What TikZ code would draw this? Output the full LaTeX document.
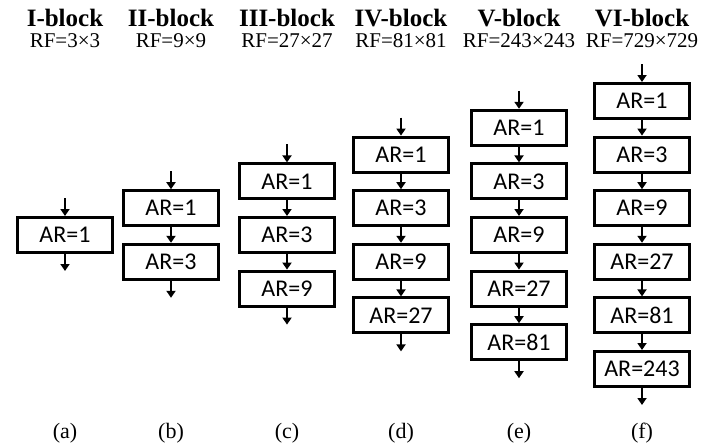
\documentclass[tikz,border=0pt]{standalone}
\usepackage{fontspec}
\setmainfont{Liberation Serif}
\newfontfamily\arfont{Carlito}
\usetikzlibrary{arrows.meta}

\tikzset{
  arbox/.style={draw=black, line width=3pt, minimum width=95pt, minimum height=35pt, inner sep=0pt, font=\arfont\fontsize{24}{26}\selectfont},
  flow/.style={line width=2pt, -{Triangle[width=9pt,length=7pt]}},
  blocktitle/.style={anchor=base, inner sep=0pt, text depth=0pt, font=\bfseries\fontsize{25}{27}\selectfont},
  rftext/.style={anchor=base, inner sep=0pt, text height=15pt, text depth=0pt, font=\fontsize{21}{23}\selectfont},
  subcap/.style={inner sep=0pt, font=\fontsize{22}{24}\selectfont}
}

\begin{document}
\begin{tikzpicture}[x=1pt, y=-1pt]
			%%%%% START %%%%%
			\useasboundingbox (0, 0) rectangle (725, 447);
			
			% titles
			\node[blocktitle] (t1) at (65, 26) {I-block};
			\node[blocktitle] (t2) at (171, 26) {II-block};
			\node[blocktitle] (t3) at (287, 26) {III-block};
			\node[blocktitle] (t4) at (401, 26) {IV-block};
			\node[blocktitle] (t5) at (519, 26) {V-block};
			\node[blocktitle] (t6) at (642, 26) {VI-block};
			
			\node[rftext] (rf1) at (65, 47) {RF=3×3};
			\node[rftext] (rf2) at (171, 47) {RF=9×9};
			\node[rftext] (rf3) at (287, 47) {RF=27×27};
			\node[rftext] (rf4) at (401, 47) {RF=81×81};
			\node[rftext] (rf5) at (519, 47) {RF=243×243};
			\node[rftext] (rf6) at (642, 47) {RF=729×729};
			
			% (a)
			\node[arbox] (a1) at (65, 235) {AR=1};
			\coordinate (ain) at (65, 198);
			\coordinate (aout) at (65, 271);
			\draw[flow] (ain) -- (a1);
			\draw[flow] (a1) -- (aout);
			
			% (b)
			\node[arbox] (b1) at (171, 208.2) {AR=1};
			\node[arbox] (b2) at (171, 261.8) {AR=3};
			\coordinate (bin) at (171, 171.2);
			\coordinate (bout) at (171, 297.8);
			\draw[flow] (bin) -- (b1);
			\draw[flow] (b1) -- (b2);
			\draw[flow] (b2) -- (bout);
			
			% (c)
			\node[arbox] (c1) at (287, 181.4) {AR=1};
			\node[arbox] (c2) at (287, 235) {AR=3};
			\node[arbox] (c3) at (287, 288.6) {AR=9};
			\coordinate (cin) at (287, 144.4);
			\coordinate (cout) at (287, 324.6);
			\draw[flow] (cin) -- (c1);
			\draw[flow] (c1) -- (c2);
			\draw[flow] (c2) -- (c3);
			\draw[flow] (c3) -- (cout);
			
			% (d)
			\node[arbox] (d1) at (401, 154.6) {AR=1};
			\node[arbox] (d2) at (401, 208.2) {AR=3};
			\node[arbox] (d3) at (401, 261.8) {AR=9};
			\node[arbox] (d4) at (401, 315.4) {AR=27};
			\coordinate (din) at (401, 117.6);
			\coordinate (dout) at (401, 351.4);
			\draw[flow] (din) -- (d1);
			\draw[flow] (d1) -- (d2);
			\draw[flow] (d2) -- (d3);
			\draw[flow] (d3) -- (d4);
			\draw[flow] (d4) -- (dout);
			
			% (e)
			\node[arbox] (e1) at (519, 127.8) {AR=1};
			\node[arbox] (e2) at (519, 181.4) {AR=3};
			\node[arbox] (e3) at (519, 235) {AR=9};
			\node[arbox] (e4) at (519, 288.6) {AR=27};
			\node[arbox] (e5) at (519, 342.2) {AR=81};
			\coordinate (ein) at (519, 90.8);
			\coordinate (eout) at (519, 378.2);
			\draw[flow] (ein) -- (e1);
			\draw[flow] (e1) -- (e2);
			\draw[flow] (e2) -- (e3);
			\draw[flow] (e3) -- (e4);
			\draw[flow] (e4) -- (e5);
			\draw[flow] (e5) -- (eout);
			
			% (f)
			\node[arbox] (f1) at (642, 101) {AR=1};
			\node[arbox] (f2) at (642, 154.6) {AR=3};
			\node[arbox] (f3) at (642, 208.2) {AR=9};
			\node[arbox] (f4) at (642, 261.8) {AR=27};
			\node[arbox] (f5) at (642, 315.4) {AR=81};
			\node[arbox] (f6) at (642, 369) {AR=243};
			\coordinate (fin) at (642, 64);
			\coordinate (fout) at (642, 405);
			\draw[flow] (fin) -- (f1);
			\draw[flow] (f1) -- (f2);
			\draw[flow] (f2) -- (f3);
			\draw[flow] (f3) -- (f4);
			\draw[flow] (f4) -- (f5);
			\draw[flow] (f5) -- (f6);
			\draw[flow] (f6) -- (fout);
			
			% captions
			\node[subcap] (capa) at (65, 433) {(a)};
			\node[subcap] (capb) at (171, 433) {(b)};
			\node[subcap] (capc) at (287, 433) {(c)};
			\node[subcap] (capd) at (401, 433) {(d)};
			\node[subcap] (cape) at (519, 433) {(e)};
			\node[subcap] (capf) at (642, 433) {(f)};
			
			%%%%% END %%%%%
\end{tikzpicture}
\end{document}
